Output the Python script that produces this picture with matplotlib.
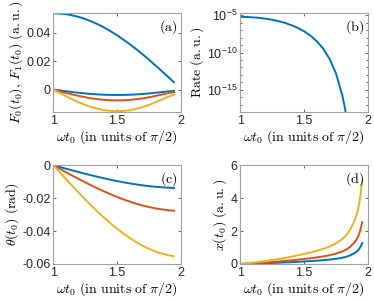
import numpy as np
import matplotlib
matplotlib.use('Agg')
import matplotlib.pyplot as plt
from matplotlib.ticker import FixedLocator, NullFormatter, FormatStrFormatter

plt.rcParams['font.family'] = ['Liberation Sans', 'DejaVu Sans']
plt.rcParams['mathtext.fontset'] = 'cm'
plt.rcParams['axes.unicode_minus'] = False

blue = '#0072BD'
red = '#D95319'
yellow = '#EDB120'

# (a) F0 and F1 (F1 for the largest case; the others are 1/2 and 1/4 of it)
xa = [1.0, 1.05, 1.1, 1.15, 1.2, 1.25, 1.3, 1.35, 1.4, 1.45, 1.5,
      1.55, 1.6, 1.65, 1.7, 1.75, 1.8, 1.85, 1.9, 1.945]
F0 = [0.0537, 0.0535, 0.0531, 0.0522, 0.0511, 0.0497, 0.0479, 0.0459, 0.0436,
      0.0410, 0.0382, 0.0351, 0.0319, 0.0284, 0.0248, 0.0210, 0.0170, 0.0130,
      0.0089, 0.0052]
F1_y = [0, -0.0024, -0.0047, -0.0069, -0.0089, -0.0108, -0.0123, -0.0135, -0.0145,
        -0.0150, -0.0152, -0.0150, -0.0145, -0.0135, -0.0123, -0.0108, -0.0089,
        -0.0070, -0.0050, -0.0036]

# (b) rate, log10 values
xb = [1.0, 1.05, 1.1, 1.15, 1.2, 1.25, 1.3, 1.35, 1.4, 1.45, 1.5, 1.55, 1.6,
      1.65, 1.7, 1.75, 1.8, 1.82, 1.835, 1.85]
lograte = [-5.22, -5.23, -5.28, -5.35, -5.46, -5.60, -5.79, -6.02, -6.32, -6.69,
           -7.15, -7.74, -8.50, -9.50, -10.88, -12.84, -15.84, -17.5, -19.07, -20.9]

# (c) theta (largest case)
xc = [1.0, 1.05, 1.1, 1.15, 1.2, 1.25, 1.3, 1.35, 1.4, 1.45, 1.5,
      1.55, 1.6, 1.65, 1.7, 1.75, 1.8, 1.85, 1.9, 1.945]
theta_y = [0, -0.0043, -0.0085, -0.0127, -0.0168, -0.0208, -0.0247, -0.0285,
           -0.0320, -0.0354, -0.0386, -0.0416, -0.0443, -0.0468, -0.0490, -0.0508,
           -0.0525, -0.0537, -0.0547, -0.0553]

# (d) x(t0) (largest case)
xd = [1.0, 1.1, 1.2, 1.231, 1.3, 1.4, 1.5, 1.55, 1.6, 1.65, 1.7, 1.756, 1.8,
      1.835, 1.86, 1.887, 1.91, 1.927, 1.94, 1.955]
x_y = [0, 0.08, 0.18, 0.22, 0.30, 0.44, 0.61, 0.69, 0.80, 0.92, 1.06, 1.29, 1.52,
       1.8, 2.08, 2.5, 2.95, 3.5, 4.1, 5.07]

scales = [0.25, 0.5, 1.0]
cols = [blue, red, yellow]

fig = plt.figure(figsize=(3.74, 3.02), dpi=100)
w, h = 0.3414, 0.327
axa = fig.add_axes([0.1425, 0.629, w, h])
axb = fig.add_axes([0.6425, 0.629, w, h])
axc = fig.add_axes([0.1425, 0.126, w, h])
axd = fig.add_axes([0.6425, 0.126, w, h])

lw = 1.4
fs = 10
xlab = r'$\omega t_0\ \mathrm{(in\ units\ of\ }\pi/2\mathrm{)}$'

axa.plot(xa, F0, color=blue, lw=lw)
for s, c in zip(scales, cols):
    axa.plot(xa, np.array(F1_y) * s, color=c, lw=lw)
axa.set_ylim(-0.0158, 0.0537)
axa.set_yticks([0, 0.02, 0.04])
axa.set_ylabel(r'$F_0(t_0),\,F_1(t_0)\ \mathrm{(a.u.)}$', fontsize=fs, labelpad=1)

axb.plot(xb, 10 ** np.array(lograte), color=blue, lw=lw)
axb.set_yscale('log')
axb.set_ylim(1e-18, 10 ** -4.73)
axb.yaxis.set_major_locator(FixedLocator([1e-15, 1e-10, 1e-5]))
axb.yaxis.set_minor_locator(FixedLocator([10.0 ** k for k in range(-18, -4)]))
axb.yaxis.set_minor_formatter(NullFormatter())
axb.set_ylabel(r'$\mathrm{Rate\ (a.u.)}$', fontsize=fs, labelpad=1)

for s, c in zip(scales, cols):
    axc.plot(xc, np.array(theta_y) * s, color=c, lw=lw)
axc.set_ylim(-0.06, 0)
axc.set_yticks([0, -0.02, -0.04, -0.06])
axc.set_ylabel(r'$\theta(t_0)\ \mathrm{(rad)}$', fontsize=fs, labelpad=1)

for s, c in zip(scales, cols):
    axd.plot(xd, np.array(x_y) * s, color=c, lw=lw)
axd.set_ylim(0, 6)
axd.set_yticks([0, 2, 4, 6])
axd.set_ylabel(r'$x(t_0)\ \mathrm{(a.u.)}$', fontsize=fs, labelpad=1)

for ax, lab in zip([axa, axb, axc, axd], ['(a)', '(b)', '(c)', '(d)']):
    ax.set_xlim(1, 2)
    ax.set_xticks([1, 1.5, 2])
    ax.xaxis.set_major_formatter(FormatStrFormatter('%g'))
    if ax is not axb:
        ax.yaxis.set_major_formatter(FormatStrFormatter('%g'))
    ax.set_xlabel(xlab, fontsize=fs, labelpad=1)
    ax.tick_params(direction='in', which='both', length=2.5, width=0.5,
                   labelsize=9, colors='#262626', pad=2, top=True, right=True)
    ax.tick_params(which='minor', length=1.5)
    for sp in ax.spines.values():
        sp.set_color('#a0a0a0')
        sp.set_linewidth(0.8)
    ax.text(0.97, 0.95, r'$\mathrm{' + lab + '}$', transform=ax.transAxes,
            ha='right', va='top', fontsize=fs)

fig.savefig('out.png', dpi=100)
